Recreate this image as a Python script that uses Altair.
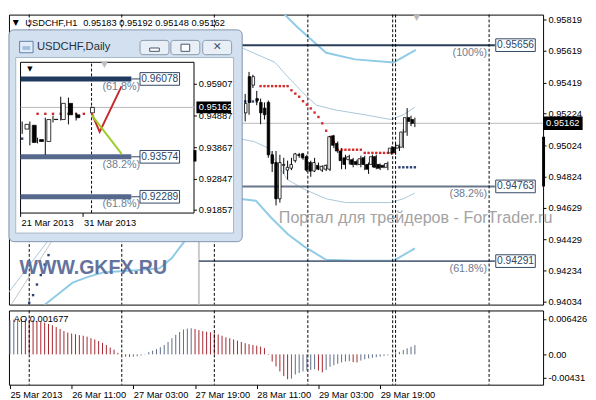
import json
import altair as alt
import pandas as pd

FONT = "Liberation Sans"
W, H, H2 = 547, 297, 76
KX, KY = 0.987, 0.977


def px(x):
    return round((x - 1) * KX, 2)


def py(y):
    return round(y * KY, 2)


# ---------------- main H1 chart (bar index, 0 = "25 Mar 2013") ----------------
bar_index = list(range(61, 106))
bar_open = [0.95228, 0.95457, 0.95403, 0.95318, 0.95294, 0.95258, 0.95294, 0.94963, 0.94914, 0.94685,
            0.94896, 0.94866, 0.94878, 0.94926, 0.94963, 0.94969, 0.94951, 0.94914, 0.94860, 0.94896,
            0.94866, 0.94872, 0.94872, 0.95083, 0.95035, 0.94987, 0.94944, 0.94932, 0.94932, 0.94920,
            0.94902, 0.94944, 0.94902, 0.94902, 0.94951, 0.94902, 0.94896, 0.94884, 0.94975, 0.95011,
            0.95005, 0.95011, 0.95107, 0.95198, 0.95186]
bar_high = [0.95348, 0.95487, 0.95469, 0.95367, 0.95318, 0.95294, 0.95306, 0.94987, 0.94987, 0.94963,
            0.94944, 0.94926, 0.94944, 0.94975, 0.94975, 0.94975, 0.94963, 0.94926, 0.94944, 0.94914,
            0.94896, 0.94902, 0.95083, 0.95089, 0.95047, 0.95005, 0.94963, 0.94963, 0.94944, 0.94932,
            0.94957, 0.94957, 0.94914, 0.94963, 0.94963, 0.94908, 0.94902, 0.94920, 0.95017, 0.95035,
            0.95029, 0.95126, 0.95258, 0.95210, 0.95198]
bar_low = [0.95174, 0.95216, 0.95385, 0.95276, 0.95156, 0.95186, 0.94944, 0.94854, 0.94643, 0.94661,
           0.94842, 0.94806, 0.94866, 0.94914, 0.94944, 0.94932, 0.94854, 0.94824, 0.94854, 0.94866,
           0.94854, 0.94860, 0.94860, 0.95005, 0.94975, 0.94872, 0.94872, 0.94902, 0.94884, 0.94896,
           0.94884, 0.94866, 0.94842, 0.94884, 0.94872, 0.94866, 0.94878, 0.94866, 0.94963, 0.94963,
           0.94987, 0.95005, 0.95083, 0.95144, 0.95138]
bar_close = [0.95288, 0.95294, 0.95457, 0.95306, 0.95228, 0.95216, 0.94963, 0.94908, 0.94685, 0.94914,
             0.94902, 0.94884, 0.94902, 0.94969, 0.94960, 0.94944, 0.94866, 0.94860, 0.94914, 0.94872,
             0.94890, 0.94896, 0.95077, 0.95023, 0.94987, 0.94926, 0.94902, 0.94951, 0.94902, 0.94902,
             0.94938, 0.94902, 0.94872, 0.94951, 0.94884, 0.94878, 0.94884, 0.94908, 0.95005, 0.94975,
             0.95023, 0.95107, 0.95198, 0.95174, 0.95162]
current_price = 0.95162

sar_red_index = list(range(65, 100))
sar_red_price = [0.95397] * 8 + [0.95371, 0.95350, 0.95330, 0.95302, 0.95280, 0.95256, 0.95230,
                                 0.95202, 0.95162, 0.95115, 0.95075, 0.95045] + [0.94995] * 7 + [0.94975] * 8
sar_blue_index = [5, 6, 7, 8, 9, 10, 61, 62, 63, 64, 101, 102, 103, 104, 105]
sar_blue_price = [0.94028, 0.94076, 0.94143, 0.94203, 0.94269, 0.94329, 0.95300, 0.95300, 0.95300, 0.95300,
                  0.94884, 0.94884, 0.94884, 0.94884, 0.94884]

thin_upper_i = [60.25, 68.75, 72, 76.25, 79.5, 84.5, 92, 98.75, 102, 105]
thin_upper_p = [0.95638, 0.95547, 0.95457, 0.95348, 0.95276, 0.95246, 0.95216, 0.95186, 0.95216, 0.95264]
thin_lower_i = [-0.5, 10.25, 59.5, 63.25, 67, 69.5, 72, 76.25, 82, 87, 98.75, 102, 105]
thin_lower_p = [0.94088, 0.94432, 0.95065, 0.95047, 0.95005, 0.94896, 0.94806, 0.94746, 0.94685, 0.94661,
                0.94661, 0.94685, 0.94721]
thick_upper_i = [68, 71.25, 74.5, 77, 82, 89.5, 99.5, 105.25]
thick_upper_p = [0.95960, 0.95849, 0.95771, 0.95716, 0.95608, 0.95566, 0.95547, 0.95626]
thick_lower_i = [7, 8.75, 16.25, 20.25, 24.5, 32.75, 38.75, 42, 45.75, 59.5, 63.75, 67.75, 72, 76.25,
                 82, 89.5, 99.5, 105]
thick_lower_p = [0.93930, 0.94010, 0.94155, 0.94191, 0.94221, 0.94233, 0.94245, 0.94311, 0.94432, 0.94685,
                 0.94673, 0.94565, 0.94462, 0.94384, 0.94299, 0.94293, 0.94293, 0.94372]
trend_i = [0.5, 11.25]
trend_p = [0.94022, 0.94432]

fibo_price = [0.95656, 0.94763, 0.94291]
fibo_label = ["(100%)", "(38.2%)", "(61.8%)"]
fibo_start, fibo_end, fibo_box_at, fibo_label_at = 49, 125.75, 131.1, 123.75
fibo_colors = ["#2b3e58", "#68768a", "#5a6a82"]
price_marker = [0.95077, 0.94763]

separators = [5, 29, 53, 77.25, 99.25, 100, 124.25]
price_ticks = [0.95819, 0.95619, 0.95419, 0.95224, 0.95024, 0.94824, 0.94629, 0.94429, 0.94234, 0.94034]
time_ticks = [0, 16, 32, 48, 64, 80, 96]
time_labels = ["25 Mar 2013", "26 Mar 11:00", "27 Mar 03:00", "27 Mar 19:00", "28 Mar 11:00",
               "29 Mar 03:00", "29 Mar 19:00"]

# ---------------- AO indicator ----------------
ao_values = [0.00622, 0.00633, 0.00638, 0.00643, 0.00638, 0.00633, 0.00622, 0.00610, 0.00593, 0.00576,
             0.00554, 0.00531, 0.00497, 0.00463, 0.00424, 0.00396, 0.00379, 0.00367, 0.00350, 0.00339,
             0.00322, 0.00294, 0.00271, 0.00243, 0.00209, 0.00170, 0.00124, 0.00085, 0.00028, -0.00011,
             -0.00040, -0.00045, -0.00042, -0.00034, -0.00020, 0.00006, 0.00040, 0.00068, 0.00096, 0.00130,
             0.00170, 0.00226, 0.00294, 0.00356, 0.00407, 0.00452, 0.00469, 0.00475, 0.00463, 0.00441,
             0.00424, 0.00412, 0.00401, 0.00384, 0.00362, 0.00339, 0.00311, 0.00294, 0.00271, 0.00249,
             0.00226, 0.00203, 0.00186, 0.00170, 0.00158, 0.00141, 0.00113, -0.00010, -0.00130, -0.00220,
             -0.00311, -0.00396, -0.00452, -0.00441, -0.00367, -0.00339, -0.00311, -0.00294, -0.00283, -0.00271,
             -0.00294, -0.00328, -0.00283, -0.00226, -0.00198, -0.00170, -0.00147, -0.00130, -0.00124, -0.00141,
             -0.00147, -0.00113, -0.00090, -0.00073, -0.00062, -0.00051, -0.00040, -0.00028, -0.00017, -0.00006,
             0.00023, 0.00045, 0.00079, 0.00110, 0.00140, 0.00168]
ao_ticks = [0.006426, 0.0, -0.00431]
ao_tick_labels = ["0.006426", "0.00", "-0.00431"]

# ---------------- inset: USDCHF Daily ----------------
day_k = [0, 1, 2, 3, 4, 5, 6, 7, 9]
day_open = [0.94465, 0.94588, 0.94128, 0.94066, 0.94772, 0.94772, 0.95293, 0.94925, 0.94987]
day_high = [0.94710, 0.94710, 0.94190, 0.94833, 0.94895, 0.95508, 0.95477, 0.94987, 0.95190]
day_low = [0.94312, 0.93943, 0.94005, 0.93637, 0.94680, 0.94741, 0.94618, 0.94741, 0.94956]
day_close = [0.94618, 0.94036, 0.94066, 0.94772, 0.94780, 0.95293, 0.94925, 0.94833, 0.95162]
day_sar_k = [0, 2, 3, 4, 5, 6, 7, 8]
day_sar_p = [0.94158] + [0.94956] * 7
day_sar_kind = ["blue"] + ["red"] * 7
red_path_k = [9, 10.05, 12.9]
red_path_p = [0.94987, 0.94373, 0.95846]
green_path_k = [9, 12.9]
green_path_p = [0.94925, 0.93667]
day_fibo_price = [0.96078, 0.93574, 0.92289]
day_fibo_label = ["(61.8%)", "(38.2%)", "(61.8%)"]
day_fibo_start, day_fibo_end, day_box_left, day_box_at, day_label_at = -0.2125, 14.16, 15.29, 17.85, 12.85
day_fibo_colors = ["#1f3a5e", "#56698c", "#56698c"]
day_separator = [9]
day_ticks = [0.95907, 0.94887, 0.93867, 0.92847, 0.91857]
day_marker = [0.93790, 0.93422]
day_date_k = [-0.2, 7.9]
day_date_labels = ["21 Mar 2013", "31 Mar 2013"]

# ---------------- scales & helpers ----------------
ONE = pd.DataFrame({"k": [0]})
MXS = dict(domain=[-0.25, 138.25], range=[0, W], nice=False, zero=False)
MYS = dict(domain=[0.94016, 0.95849], range=[H, 0], nice=False, zero=False)
IXS = dict(domain=[-0.2125, 22.29], range=[px(13), px(193)], nice=False, zero=False)
IYS = dict(domain=[0.91765, 0.96613], range=[py(208), py(50)], nice=False, zero=False)
AYS = dict(domain=[-0.00552, 0.00799], range=[H2, 0], nice=False, zero=False)
BOX_C = "M-1,-0.32H1V0.32H-1Z"
BOX_L = "M0,-0.34H2V0.34H0Z"


def X(f, s=MXS, axis=None):
    return alt.X(f, type="quantitative", scale=alt.Scale(**s), axis=axis)


def Y(f, s=MYS, axis=None):
    return alt.Y(f, type="quantitative", scale=alt.Scale(**s), axis=axis)


def rect(x0, y0, x1, y1, fill, stroke=None, sw=1, r=0):
    kw = {"fill": fill}
    if stroke:
        kw["stroke"] = stroke
        kw["strokeWidth"] = sw
    if r:
        kw["cornerRadius"] = r
    return alt.Chart(ONE).mark_rect(**kw).encode(
        x=alt.value(px(x0)), x2=alt.value(px(x1)), y=alt.value(py(y0)), y2=alt.value(py(y1)))


def txt(s, x, y, size=9.5, color="black", align="left", font=FONT, weight="normal", opacity=1.0):
    return alt.Chart(ONE).mark_text(text=s, font=font, fontSize=size, color=color, align=align,
                                    baseline="middle", fontWeight=weight, opacity=opacity).encode(
        x=alt.value(px(x)), y=alt.value(py(y)))


def series(name, xs, ys):
    return pd.DataFrame({"band": name, "i": xs, "p": ys})


# ---------------- main price panel layers ----------------
candles = pd.DataFrame({"i": bar_index, "o": bar_open, "h": bar_high, "l": bar_low, "c": bar_close})
thin = pd.concat([series("u", thin_upper_i, thin_upper_p), series("l", thin_lower_i, thin_lower_p)])
thick = pd.concat([series("u", thick_upper_i, thick_upper_p), series("l", thick_lower_i, thick_lower_p)])
trend = series("t", trend_i, trend_p)
sar = pd.concat([
    pd.DataFrame({"i": sar_red_index, "p": sar_red_price, "kind": "red"}),
    pd.DataFrame({"i": sar_blue_index, "p": sar_blue_price, "kind": "blue"}),
])
fibo = pd.DataFrame({"lvl": fibo_label, "p": fibo_price, "a": fibo_start, "b": fibo_end,
                     "bx": fibo_box_at, "lx": fibo_label_at,
                     "val": [f"{v:.5f}" for v in fibo_price]})

price_axis = alt.Axis(orient="right", values=price_ticks, format=".5f", tickSize=3, tickColor="black",
                      domain=False, grid=False, labelFont=FONT, labelFontSize=9.5, labelColor="black",
                      labelPadding=2, labelOverlap=False, title=None)

layers = [
    alt.Chart(thin).mark_line(color="#a9c6d9", strokeWidth=1, clip=True).encode(
        x=X("i"), y=Y("p"), detail="band:N"),
    alt.Chart(thick).mark_line(color="#90cbe6", strokeWidth=2, clip=True).encode(
        x=X("i"), y=Y("p"), detail="band:N"),
    alt.Chart(trend).mark_line(color="#c4c4c4", strokeWidth=1, clip=True).encode(x=X("i"), y=Y("p")),
    alt.Chart(pd.DataFrame({"i": [fibo_start], "a": [MYS["domain"][0]], "b": [fibo_price[0]]}))
    .mark_rule(color="#cacaca", strokeWidth=2).encode(x=X("i"), y=Y("a"), y2="b"),
    alt.Chart(fibo).mark_rule(strokeWidth=2).encode(
        x=X("a"), x2="b", y=Y("p"),
        color=alt.Color("lvl:N", scale=alt.Scale(domain=fibo_label, range=fibo_colors), legend=None)),
    alt.Chart(pd.DataFrame({"p": [current_price]})).mark_rule(color="#b8b8b8", strokeWidth=1).encode(y=Y("p")),
    alt.Chart(pd.DataFrame({"i": separators})).mark_rule(color="black", strokeDash=[3, 2], strokeWidth=1)
    .encode(x=X("i")),
    alt.Chart(sar).mark_square(size=6, opacity=1).encode(
        x=X("i"), y=Y("p"),
        color=alt.Color("kind:N", scale=alt.Scale(domain=["red", "blue"], range=["#d32b2b", "#2d4070"]),
                        legend=None)),
    alt.Chart(candles).mark_rule(color="black", strokeWidth=1).encode(x=X("i"), y=Y("l"), y2="h"),
    alt.Chart(candles).mark_bar(size=2.6, stroke="black", strokeWidth=0.8).encode(
        x=X("i"), y=Y("o", axis=price_axis), y2="c",
        fill=alt.condition("datum.c < datum.o", alt.value("black"), alt.value("white"))),
    alt.Chart(fibo).mark_text(font=FONT, fontSize=11, color="#6e7c8f", align="right", baseline="top", dy=2)
    .encode(x=X("lx"), y=Y("p"), text="lvl:N"),
    alt.Chart(fibo).mark_point(shape=BOX_C, size=1640, filled=True, color="white", stroke="#2d4563",
                               strokeWidth=1, opacity=1).encode(x=X("bx"), y=Y("p")),
    alt.Chart(fibo).mark_text(font=FONT, fontSize=10.5, color="#2d4563").encode(
        x=X("bx"), y=Y("p"), text="val:N"),
    txt("Портал для трейдеров - ForTrader.ru", 281, 213, size=16.5, color="#a3a3a3"),
    txt("WWW.GKFX.RU", 12, 266, size=20, color="#5b6c98", weight="bold", opacity=0.95),
    alt.Chart(pd.DataFrame({"a": [price_marker[0]], "b": [price_marker[1]]})).mark_rect(color="black")
    .encode(x=alt.value(W - 1), x2=alt.value(W + 2), y=Y("a"), y2="b"),
    alt.Chart(pd.DataFrame({"p": [current_price], "t": [f"{current_price:.5f}"]}))
    .mark_point(shape=BOX_L, size=1640, filled=True, color="black", opacity=1)
    .encode(x=alt.value(W), y=Y("p")),
    alt.Chart(pd.DataFrame({"p": [current_price], "t": [f"{current_price:.5f}"]}))
    .mark_text(font=FONT, fontSize=9.5, color="white", align="left")
    .encode(x=alt.value(W + 3), y=Y("p"), text="t:N"),
    txt("▼", 5, 9, size=8, font="DejaVu Sans"),
    txt("USDCHF,H1", 18, 9),
    txt("0.95183 0.95192 0.95148 0.95162", 78, 9),
    txt("▼", 424, 3, size=9, color="#b8b8b8", align="center", font="DejaVu Sans"),
]

# ---------------- inset window chrome ----------------
layers += [
    rect(1, 16, 243, 238, "#d3e0ef", stroke="#7f93ab", r=5),
    rect(8, 45, 234, 229, "white", stroke="#a7b6c8"),
    rect(13, 50, 193, 208, "white", stroke="black"),
    rect(12, 28, 26, 40, "#e3ecf6", stroke="#5d7fa9"),
    rect(15, 33, 23, 37, "#9fc0e3"),
    txt("USDCHF,Daily", 30, 34, size=11.5, color="#22303f"),
    rect(137, 27, 167, 42, "#e9eff7", stroke="#8798ae", r=3),
    rect(169, 27, 199, 42, "#e9eff7", stroke="#8798ae", r=3),
    rect(202, 27, 232, 42, "#e9eff7", stroke="#8798ae", r=3),
    rect(147, 35, 157, 38.5, "white", stroke="#44556b"),
    rect(179.5, 31, 188.5, 38.5, "white", stroke="#44556b"),
    txt("✕", 217, 34.5, size=11, color="#44556b", align="center", font="DejaVu Sans", weight="bold"),
]

# ---------------- inset chart layers ----------------
days = pd.DataFrame({"k": day_k, "o": day_open, "h": day_high, "l": day_low, "c": day_close})
dfibo = pd.DataFrame({"lvl": ["a", "b", "c"], "lbl": day_fibo_label, "p": day_fibo_price,
                      "a": day_fibo_start, "b": day_fibo_end, "bl": day_box_left, "bx": day_box_at,
                      "lx": day_label_at, "val": [f"{v:.5f}" for v in day_fibo_price]})
dsar = pd.DataFrame({"k": day_sar_k, "p": day_sar_p, "kind": day_sar_kind})
dticks = pd.DataFrame({"p": day_ticks, "t": [f"{v:.5f}" for v in day_ticks]})
ddates = pd.DataFrame({"k": day_date_k, "t": day_date_labels})
dcur = pd.DataFrame({"p": [current_price], "t": [f"{current_price:.5f}"],
                     "a": [IXS["domain"][0]], "b": [IXS["domain"][1]]})

layers += [
    alt.Chart(dcur).mark_rule(color="#b8b8b8", strokeWidth=1).encode(x=X("a", IXS), x2="b", y=Y("p", IYS)),
    alt.Chart(pd.DataFrame({"k": day_separator, "a": [IYS["domain"][0]], "b": [IYS["domain"][1]]}))
    .mark_rule(color="black", strokeDash=[3, 2], strokeWidth=1).encode(x=X("k", IXS), y=Y("a", IYS), y2="b"),
    alt.Chart(dfibo).mark_rule(strokeWidth=5).encode(
        x=X("a", IXS), x2="b", y=Y("p", IYS),
        color=alt.Color("lvl:N", scale=alt.Scale(domain=["a", "b", "c"], range=day_fibo_colors), legend=None)),
    alt.Chart(dfibo).mark_rule(strokeWidth=1, color="#2d4563").encode(x=X("b", IXS), x2="bl", y=Y("p", IYS)),
    alt.Chart(dsar).mark_square(size=6, opacity=1).encode(
        x=X("k", IXS), y=Y("p", IYS),
        color=alt.Color("kind:N", scale=alt.Scale(domain=["red", "blue"], range=["#c8282d", "#2d4070"]),
                        legend=None)),
    alt.Chart(days).mark_rule(color="black", strokeWidth=1).encode(x=X("k", IXS), y=Y("l", IYS), y2="h"),
    alt.Chart(days).mark_bar(size=4, stroke="black", strokeWidth=0.8).encode(
        x=X("k", IXS), y=Y("o", IYS), y2="c",
        fill=alt.condition("datum.c < datum.o", alt.value("black"), alt.value("white"))),
    alt.Chart(pd.DataFrame({"k": red_path_k, "p": red_path_p})).mark_line(color="#c6282b", strokeWidth=2)
    .encode(x=X("k", IXS), y=Y("p", IYS)),
    alt.Chart(pd.DataFrame({"k": green_path_k, "p": green_path_p})).mark_line(color="#9ccc2a", strokeWidth=2)
    .encode(x=X("k", IXS), y=Y("p", IYS)),
    alt.Chart(dfibo).mark_text(font=FONT, fontSize=11, color="#6e7c8f", baseline="top", dy=2)
    .encode(x=X("lx", IXS), y=Y("p", IYS), text="lbl:N"),
    alt.Chart(dfibo).mark_point(shape=BOX_C, size=1640, filled=True, color="white", stroke="#2d4563",
                                strokeWidth=1, opacity=1).encode(x=X("bx", IXS), y=Y("p", IYS)),
    alt.Chart(dfibo).mark_text(font=FONT, fontSize=10.5, color="#2d4563").encode(
        x=X("bx", IXS), y=Y("p", IYS), text="val:N"),
    alt.Chart(dticks).mark_rule(color="black").encode(
        x=alt.value(px(193)), x2=alt.value(px(196)), y=Y("p", IYS)),
    alt.Chart(dticks).mark_text(font=FONT, fontSize=9.5, color="black", align="left").encode(
        x=alt.value(px(198)), y=Y("p", IYS), text="t:N"),
    alt.Chart(pd.DataFrame({"a": [day_marker[0]], "b": [day_marker[1]]})).mark_rect(color="black")
    .encode(x=alt.value(px(192.5)), x2=alt.value(px(195.5)), y=Y("a", IYS), y2="b"),
    alt.Chart(dcur).mark_point(shape=BOX_L, size=1260, filled=True, color="black", opacity=1)
    .encode(x=alt.value(px(195.5)), y=Y("p", IYS)),
    alt.Chart(dcur).mark_text(font=FONT, fontSize=9.5, color="white", align="left")
    .encode(x=alt.value(px(198)), y=Y("p", IYS), text="t:N"),
    alt.Chart(ddates).mark_rule(color="black").encode(
        x=X("k", IXS), y=alt.value(py(208)), y2=alt.value(py(212))),
    alt.Chart(ddates).mark_text(font=FONT, fontSize=9.5, color="black", align="left", dx=1).encode(
        x=X("k", IXS), y=alt.value(py(218)), text="t:N"),
    txt("▼", 20, 57.5, size=7, font="DejaVu Sans"),
    txt("▼", 100, 52, size=9, color="#bdbdbd", align="center", font="DejaVu Sans"),
]

top = alt.layer(*layers).resolve_scale(x="independent", y="independent", color="independent").properties(
    width=W, height=H)

# ---------------- AO panel ----------------
ao_dir = ["up"] + ["up" if ao_values[n] >= ao_values[n - 1] else "down" for n in range(1, len(ao_values))]
ao_df = pd.DataFrame({"i": list(range(len(ao_values))), "v": ao_values, "dir": ao_dir})

time_axis = alt.Axis(values=time_ticks,
                     labelExpr=f"{json.dumps(time_labels)}[indexof({json.dumps(time_ticks)}, datum.value)]",
                     labelAlign="left", labelFlush=False, labelOverlap=False, tickSize=4,
                     tickColor="black", domain=False, grid=False, labelFont=FONT, labelFontSize=9.5,
                     labelColor="black", labelPadding=1, title=None)
ao_axis = alt.Axis(orient="right", values=ao_ticks,
                   labelExpr=f"{json.dumps(ao_tick_labels)}[indexof({json.dumps(ao_ticks)}, datum.value)]",
                   tickSize=3, tickColor="black", domain=False, grid=False, labelFont=FONT, labelFontSize=9.5,
                   labelColor="black", labelPadding=2, labelOverlap=False, title=None)

ao = alt.layer(
    alt.Chart(ao_df).transform_calculate(z="0").mark_rule(strokeWidth=1).encode(
        x=X("i", axis=time_axis), y=Y("v", AYS, axis=ao_axis), y2="z:Q",
        color=alt.Color("dir:N", scale=alt.Scale(domain=["up", "down"], range=["#5b6983", "#a3212a"]),
                        legend=None)),
    alt.Chart(pd.DataFrame({"i": separators})).mark_rule(color="black", strokeDash=[3, 2], strokeWidth=1)
    .encode(x=X("i")),
    alt.Chart(ONE).mark_text(text="AO 0.001677", font=FONT, fontSize=9.5, color="black", align="left",
                             baseline="middle").encode(x=alt.value(5), y=alt.value(9)),
).resolve_scale(x="independent", y="independent").properties(width=W, height=H2)

chart = (
    alt.vconcat(top, ao, spacing=2)
    .resolve_scale(x="independent", y="independent", color="independent")
    .properties(padding={"left": 0, "top": 0, "right": 0, "bottom": 0}, background="white")
    .configure_view(stroke="black", strokeWidth=1)
)

chart.save("out.html", embed_options={"renderer": "svg", "actions": False})
